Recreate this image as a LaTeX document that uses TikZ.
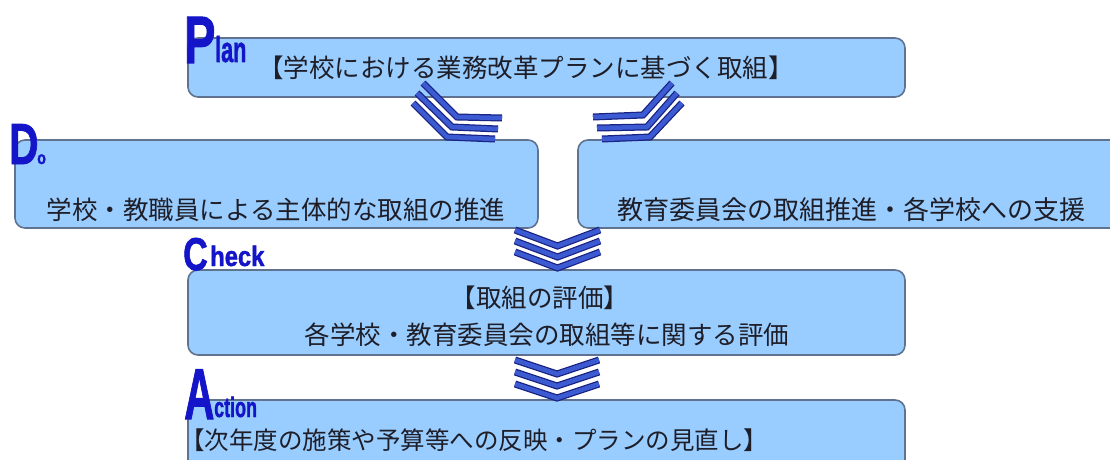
\documentclass[tikz,border=0pt]{standalone}
\usepackage{fontspec}
\usepackage{graphicx}
\setmainfont{Noto Sans CJK JP}
\newfontfamily\lblfont{Liberation Sans Bold}[FakeBold=1.5]
\definecolor{boxfill}{RGB}{153,204,255}
\definecolor{boxline}{RGB}{95,115,145}
\definecolor{chevblue}{RGB}{60,90,210}
\definecolor{chevdark}{RGB}{25,35,130}
\definecolor{lblblue}{RGB}{20,20,200}
\definecolor{txt}{RGB}{30,30,40}
\tikzset{
  box/.style={draw=boxline, line width=1.6pt, fill=boxfill, rounded corners=10pt, inner sep=0pt},
  jtext/.style={font=\fontsize{25.5}{30}\selectfont, text=txt, inner sep=0pt},
  lbl/.style={text=lblblue, inner sep=0pt, anchor=base west},
  chevstripe/.style={draw=chevblue, line width=4.5pt, line join=miter,
     preaction={draw=chevdark, line width=7pt, line join=miter}}
}
\begin{document}
\begin{tikzpicture}[x=1pt,y=-1pt]
\useasboundingbox[fill=white] (0,0) rectangle (1110,460);
% boxes
\node[box, minimum width=717pt, minimum height=59pt] (plan) at (546.5,67.5) {};
\node[box, minimum width=523pt, minimum height=88pt] (do) at (276.5,184) {};
\node[box, minimum width=547pt, minimum height=88pt] (board) at (851.5,184) {};
\node[box, minimum width=717pt, minimum height=85pt] (check) at (546.5,312.5) {};
\node[box, minimum width=717pt, minimum height=75pt] (action) at (546.5,437.5) {};
% texts
\node[jtext] (plantext) at (526,68) {【学校における業務改革プランに基づく取組】};
\node[jtext] (dotext) at (276,210) {学校・教職員による主体的な取組の推進};
\node[jtext, font=\fontsize{26}{30}\selectfont] (boardtext) at (851,210) {教育委員会の取組推進・各学校への支援};
\node[jtext] (checktitle) at (540,298) {【取組の評価】};
\node[jtext] (checktext) at (547,335) {各学校・教育委員会の取組等に関する評価};
\node[jtext, font=\fontsize{24.5}{28}\selectfont] (actiontext) at (474,440) {【次年度の施策や予算等への反映・プランの見直し】};
% PDCA labels
\node[lbl] (lP) at (184,63) {\scalebox{0.70}[1]{\lblfont\fontsize{67}{67}\selectfont P}};
\node[lbl] (llan) at (215,62) {\scalebox{0.6}[1]{\lblfont\fontsize{36}{36}\selectfont lan}};
\node[lbl] (lD) at (9,164) {\scalebox{0.70}[1]{\lblfont\fontsize{58}{58}\selectfont D}};
\node[lbl] (lo) at (37,164) {\scalebox{0.8}[1]{\lblfont\fontsize{18}{18}\selectfont o}};
\node[lbl] (lC) at (183,270) {\scalebox{0.74}[1]{\lblfont\fontsize{46}{46}\selectfont C}};
\node[lbl] (lheck) at (210,266) {\scalebox{0.85}[1]{\lblfont\fontsize{28}{28}\selectfont heck}};
\node[lbl] (lA) at (184,419) {\scalebox{0.58}[1]{\lblfont\fontsize{72}{72}\selectfont A}};
\node[lbl] (lction) at (214,417) {\scalebox{0.64}[1]{\lblfont\fontsize{28}{28}\selectfont ction}};
% chevrons Plan -> Do (left)
\draw[chevstripe] (423,83) -- (457,117) -- (502,118);
\draw[chevstripe] (417,93) -- (452,127) -- (498,129);
\draw[chevstripe] (413,103) -- (447,137) -- (495,139);
% chevrons Plan -> board (right)
\draw[chevstripe] (672,83) -- (643,115) -- (593,117);
\draw[chevstripe] (677,93) -- (647,127) -- (597,128);
\draw[chevstripe] (682,103) -- (650,137) -- (602,139);
% chevrons Do -> Check
\foreach \k in {0,1,2}{
  \draw[chevstripe] (515,{230+11*\k}) -- (557.5,{246+11*\k}) -- (600,{230+11*\k});
}
% chevrons Check -> Action
\foreach \k in {0,1,2}{
  \draw[chevstripe] (515,{360+12*\k}) -- (557,{374+12*\k}) -- (599,{360+12*\k});
}
\end{tikzpicture}
\end{document}
